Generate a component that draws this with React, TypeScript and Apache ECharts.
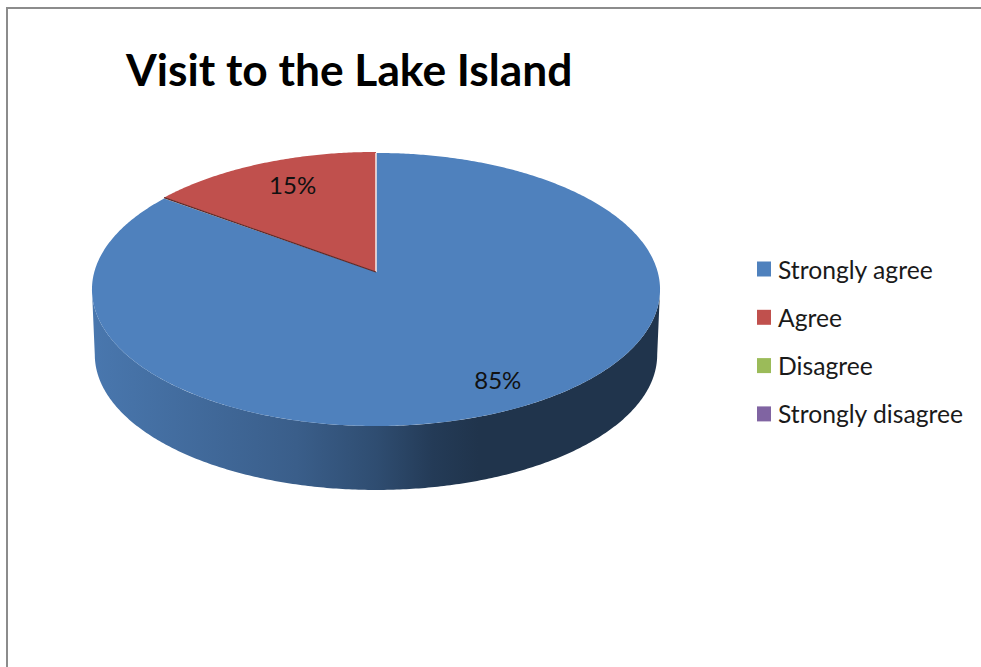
import React, { useEffect, useRef } from "react";
import * as echarts from "echarts";

const titleText = "Visit to the Lake Island";
const categories = ["Strongly agree", "Agree", "Disagree", "Strongly disagree"];
const shareValues = [85, 15, 0, 0];
const sliceColors = ["#4f81bd", "#c0504d", "#9bbb59", "#8064a2"];

const FONT = "Lato";
const CX = 376;
const CY = 272;
const A = 281.7;
const B = 134.3;
const K = 0.128;
const WALL_DY = 65.5;
const WALL_S = 0.99;
const LABEL_RADIUS = [0.83, 0.75, 0.8, 0.8];
const LABEL_NUDGE = [[4.5, -2], [5, -5], [0, 0], [0, 0]];
const TOTAL = shareValues.reduce((s, v) => s + v, 0);

function shade(color: string, f: number): string {
  const c = echarts.color.parse(color) as number[];
  return `rgb(${Math.round(c[0] * f)},${Math.round(c[1] * f)},${Math.round(c[2] * f)})`;
}

// clockwise angle from 12 o'clock, projected in perspective
function pt(theta: number, r = 1, dy = 0, s = 1): number[] {
  const u = Math.sin(theta) * r;
  const v = Math.cos(theta) * r;
  const d = 1 + K * v;
  return [CX + (A * s * u) / d, CY + dy - (B * s * v) / d];
}

function arcPts(a0: number, a1: number, dy = 0, s = 1): number[][] {
  const n = Math.max(2, Math.ceil(Math.abs(a1 - a0) / 0.01));
  const out: number[][] = [];
  for (let i = 0; i <= n; i++) out.push(pt(a0 + ((a1 - a0) * i) / n, 1, dy, s));
  return out;
}

const tangent = Math.PI / 2 + Math.asin(K);

function makeRender(idx: number) {
  return (_params: any, api: any) => {
    const value = api.value(0) as number;
    if (!value) return { type: "group", children: [] };
    let before = 0;
    for (let i = 0; i < idx; i++) before += shareValues[i];
    const start = (before / TOTAL) * Math.PI * 2;
    const end = ((before + value) / TOTAL) * Math.PI * 2;
    const base = sliceColors[idx];
    const children: any[] = [];

    // visible front wall
    const wall0 = Math.max(start, tangent);
    const wall1 = Math.min(end, Math.PI * 2 - tangent);
    if (wall1 > wall0) {
      const topEdge = arcPts(wall0, wall1);
      const bottomEdge = arcPts(wall1, wall0, WALL_DY, WALL_S);
      children.push({
        type: "polygon",
        shape: { points: topEdge.concat(bottomEdge) },
        style: {
          fill: new echarts.graphic.LinearGradient(
            0,
            0,
            1,
            0,
            [
              { offset: 0, color: shade(base, 0.92) },
              { offset: 0.36, color: shade(base, 0.73) },
              { offset: 0.5, color: shade(base, 0.6) },
              { offset: 0.6, color: shade(base, 0.46) },
              { offset: 0.68, color: shade(base, 0.4) },
              { offset: 1, color: shade(base, 0.4) },
            ],
            false
          ),
        },
      });
    }

    // top face
    const raise = idx === 0 ? 0 : -1;
    const apex = [CX, CY];
    children.push({
      type: "polygon",
      shape: { points: [apex, ...arcPts(start, end, raise)] },
      style: { fill: base },
    });

    // edge highlight on the slice's starting radius
    const rim = pt(start, 1, raise);
    children.push({
      type: "line",
      shape: { x1: apex[0], y1: apex[1], x2: rim[0], y2: rim[1] },
      style: {
        stroke: start < Math.PI ? "#f4e4e2" : "#5b2a28",
        lineWidth: start < Math.PI ? 1.6 : 1.2,
      },
      z2: 5,
    });

    // percentage label
    const mid = pt((start + end) / 2, LABEL_RADIUS[idx]);
    children.push({
      type: "text",
      x: mid[0] + LABEL_NUDGE[idx][0],
      y: mid[1] + LABEL_NUDGE[idx][1],
      style: {
        text: `${value}%`,
        fill: "#111111",
        font: `24px ${FONT}`,
        align: "center",
        verticalAlign: "middle",
      },
      z2: 10,
    });

    return { type: "group", children };
  };
}

export default function App() {
  const ref = useRef<HTMLDivElement>(null);
  useEffect(() => {
    const chart = echarts.init(ref.current!, undefined, { renderer: "svg" });
    chart.setOption({
      animation: false,
      backgroundColor: "#ffffff",
      title: {
        text: titleText,
        left: 121,
        top: 41,
        textStyle: { fontFamily: FONT, fontWeight: "bold", fontSize: 44.3, color: "#000000" },
      },
      legend: {
        orient: "vertical",
        left: 752,
        top: 251,
        icon: "rect",
        itemWidth: 14,
        itemHeight: 15,
        itemGap: 22.3,
        data: categories,
        selectedMode: false,
        textStyle: { fontFamily: FONT, fontSize: 24.7, color: "#1a1a1a", padding: [0, 0, 0, 2], lineHeight: 26 },
      },
      graphic: [
        { type: "rect", shape: { x: 6, y: 7, width: 975, height: 2 }, style: { fill: "#8c8c8c" }, silent: true },
        { type: "rect", shape: { x: 6, y: 7, width: 2, height: 660 }, style: { fill: "#8c8c8c" }, silent: true },
      ],
      series: categories.map((name, i) => ({
        type: "custom",
        name,
        coordinateSystem: "none",
        itemStyle: { color: sliceColors[i] },
        renderItem: makeRender(i),
        data: [[shareValues[i]]],
        silent: true,
      })),
    });
    return () => chart.dispose();
  }, []);
  return <div ref={ref} style={{ position: "fixed", left: 0, top: 0, width: 981, height: 667 }} />;
}
